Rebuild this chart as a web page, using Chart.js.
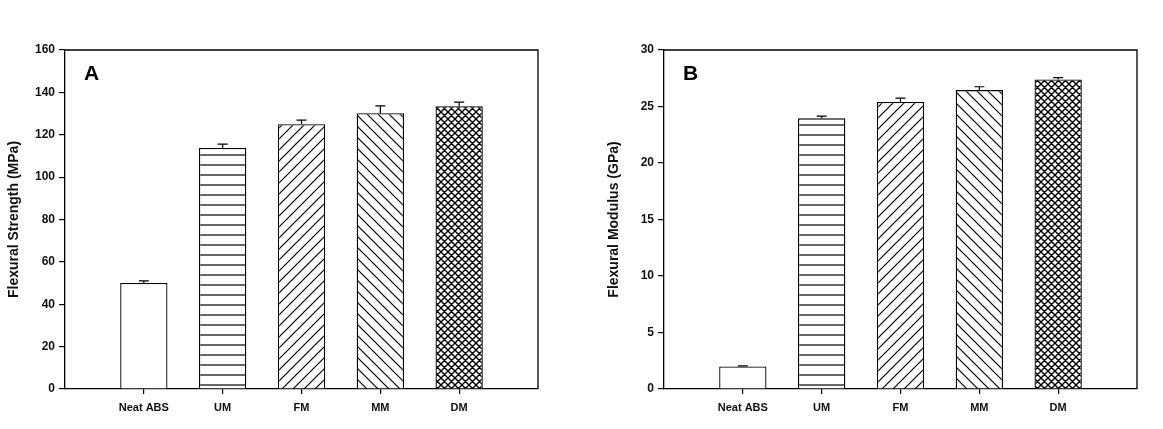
<!DOCTYPE html>
<html>
<head>
<meta charset="utf-8">
<script src="https://cdn.jsdelivr.net/npm/chart.js@4.4.1/dist/chart.umd.min.js"></script>
<style>
  html, body { margin: 0; padding: 0; background: #fff; }
  .wrap { position: absolute; top: 0; height: 429px; }
  #boxA { left: 0; width: 600px; }
  #boxB { left: 600px; width: 563px; }
</style>
</head>
<body>
<div class="wrap" id="boxA"><canvas id="chartA"></canvas></div>
<div class="wrap" id="boxB"><canvas id="chartB"></canvas></div>
<script>
// data
const categories = ['Neat ABS', 'UM', 'FM', 'MM', 'DM'];
const strengthValues = [50.0, 113.8, 125.0, 130.2, 133.5];
const strengthErrors = [1.0, 1.8, 1.9, 3.4, 1.9];
const modulusValues = [2.0, 23.95, 25.4, 26.45, 27.4];
const modulusErrors = [0.05, 0.2, 0.35, 0.3, 0.15];
const strengthTicks = [0, 20, 40, 60, 80, 100, 120, 140, 160];
const modulusTicks = [0, 5, 10, 15, 20, 25, 30];

const FONT = "'Liberation Sans', Arial, sans-serif";

// fill patterns: blank, horizontal, forward diag, back diag, cross
function hatch(kind) {
  const s = kind === 'h' ? 10 : kind === 'x' ? 7 : 11;
  const c = document.createElement('canvas');
  c.width = s; c.height = s;
  const g = c.getContext('2d');
  g.fillStyle = '#fff';
  g.fillRect(0, 0, s, s);
  if (kind === 'none') return g.createPattern(c, 'repeat');
  g.strokeStyle = '#000';
  g.lineWidth = kind === 'x' ? 1.4 : 1.2;
  g.beginPath();
  if (kind === 'h') {
    g.moveTo(0, s / 2); g.lineTo(s, s / 2);
  }
  if (kind === '/' || kind === 'x') {
    g.moveTo(0, s); g.lineTo(s, 0);
    g.moveTo(-1, 1); g.lineTo(1, -1);
    g.moveTo(s - 1, s + 1); g.lineTo(s + 1, s - 1);
  }
  if (kind === '\\' || kind === 'x') {
    g.moveTo(0, 0); g.lineTo(s, s);
    g.moveTo(-1, s - 1); g.lineTo(1, s + 1);
    g.moveTo(s - 1, -1); g.lineTo(s + 1, 1);
  }
  g.stroke();
  return g.createPattern(c, 'repeat');
}

const fills = [hatch('none'), hatch('h'), hatch('/'), hatch('\\'), hatch('x')];

const errorBars = {
  id: 'errorBars',
  afterDatasetsDraw(chart, args, opts) {
    const meta = chart.getDatasetMeta(0);
    const y = chart.scales.y;
    const g = chart.ctx;
    g.save();
    g.strokeStyle = '#000';
    g.lineWidth = 1.2;
    opts.errors.forEach((e, i) => {
      const bar = meta.data[i + 1];
      const yTop = y.getPixelForValue(opts.values[i] + e);
      g.beginPath();
      g.moveTo(bar.x, bar.y);
      g.lineTo(bar.x, yTop);
      g.moveTo(bar.x - 5, yTop);
      g.lineTo(bar.x + 5, yTop);
      g.stroke();
    });
    g.restore();
  }
};

const frame = {
  id: 'frame',
  afterDraw(chart, args, opts) {
    const a = chart.chartArea;
    const g = chart.ctx;
    g.save();
    g.strokeStyle = '#000';
    g.lineWidth = 1.3;
    g.beginPath();
    g.moveTo(a.left, a.top);
    g.lineTo(a.right, a.top);
    g.lineTo(a.right, a.bottom);
    g.stroke();
    g.fillStyle = '#000';
    g.font = 'bold 21px ' + FONT;
    g.textBaseline = 'alphabetic';
    g.fillText(opts.letter, a.left + 19, a.top + 30);
    g.restore();
  }
};

function makeChart(id, values, errors, ticks, title, letter, axisWidth, padRight) {
  return new Chart(document.getElementById(id), {
    type: 'bar',
    data: {
      labels: ['', ...categories, ''],
      datasets: [{
        data: [null, ...values, null],
        backgroundColor: ['#fff', ...fills, '#fff'],
        borderColor: '#000',
        borderWidth: 1.3,
        categoryPercentage: 1,
        barPercentage: 0.6
      }]
    },
    options: {
      responsive: true,
      maintainAspectRatio: false,
      animation: false,
      layout: { padding: { top: 50, right: padRight, left: 0, bottom: 0 } },
      plugins: {
        legend: { display: false },
        tooltip: { enabled: false },
        errorBars: { values, errors },
        frame: { letter }
      },
      scales: {
        x: {
          offset: false,
          grid: {
            offset: false,
            drawOnChartArea: false,
            drawTicks: true,
            tickLength: 5,
            lineWidth: 1.2,
            tickColor: c => (c.tick && c.tick.label ? '#000' : 'rgba(0,0,0,0)')
          },
          border: { color: '#000', width: 1.3 },
          ticks: {
            color: '#111',
            font: { family: FONT, weight: 'bold', size: 11 },
            padding: 7,
            maxRotation: 0,
            autoSkip: false
          },
          afterFit: s => { s.height = 40; }
        },
        y: {
          min: ticks[0],
          max: ticks[ticks.length - 1],
          afterBuildTicks: s => { s.ticks = ticks.map(v => ({ value: v })); },
          grid: {
            drawOnChartArea: false,
            drawTicks: true,
            tickLength: 6,
            lineWidth: 1.2,
            tickColor: '#000'
          },
          border: { color: '#000', width: 1.3 },
          ticks: {
            color: '#111',
            font: { family: FONT, weight: 'bold', size: 12 },
            padding: 4
          },
          title: {
            display: true,
            text: title,
            color: '#111',
            font: { family: FONT, weight: 'bold', size: 14 },
            padding: { top: 6, bottom: 0 }
          },
          afterFit: s => { s.width = axisWidth; }
        }
      }
    },
    plugins: [errorBars, frame]
  });
}

makeChart('chartA', strengthValues, strengthErrors, strengthTicks, 'Flexural Strength (MPa)', 'A', 65, 62);
makeChart('chartB', modulusValues, modulusErrors, modulusTicks, 'Flexural Modulus (GPa)', 'B', 64, 26);
</script>
</body>
</html>
